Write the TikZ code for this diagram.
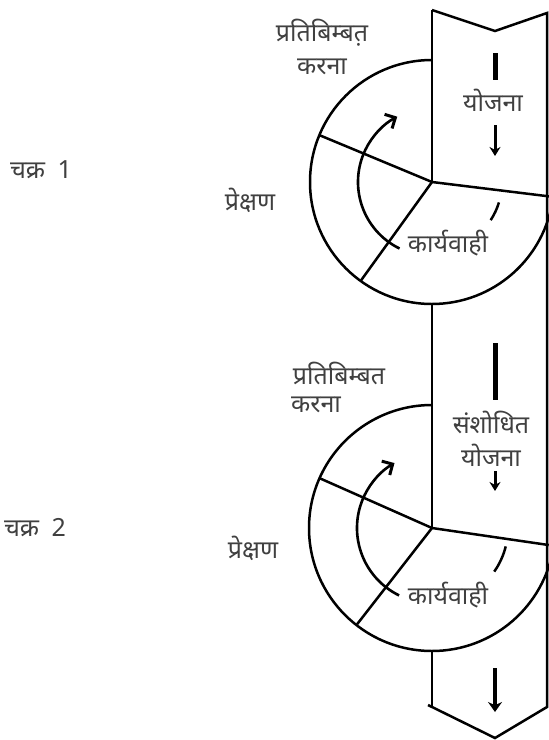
\documentclass[tikz,border=0pt]{standalone}
\usepackage{fontspec}
\newfontfamily\deva[Script=Devanagari]{Noto Sans}
\usetikzlibrary{arrows.meta}
\begin{document}
\begin{tikzpicture}[x=1pt,y=-1pt,
  lbl/.style={font=\deva\fontsize{25}{28}\selectfont, text=black!75, inner sep=0pt},
  edge/.style={line width=2.5pt, black, line join=miter},
  bar/.style={line width=5pt, black},
  flow/.style={line width=3pt, black, -{Stealth[length=9pt,width=11pt]}},
  turn/.style={line width=2.6pt, black, -{Straight Barb[length=8pt,width=16pt,line width=3pt]}},
]
\useasboundingbox (0,0) rectangle (549,740);

% band (arrow)
\coordinate (tl) at (432,10);
\coordinate (tn) at (495,31);
\coordinate (tr) at (547,13);
\coordinate (bl) at (428,705);
\coordinate (bn) at (495,738);
\coordinate (br) at (547,707);
\coordinate (c1) at (432,182);
\coordinate (c2) at (432,528);
\draw[edge] (tl) -- (tn) -- (tr) -- (br) -- (bn) -- (bl);
\draw[edge] (tl) -- (c1);
\draw[edge] (432,304) -- (c2);
\draw[edge] (432,651) -- (432,707);

% cycle 1
\draw[edge] (432,60) arc[start angle=270, end angle=7, radius=122];
\draw[edge] (c1) -- ++(7:121);
\draw[edge] (c1) -- ++(202.6:122);
\draw[edge] (c1) -- ++(125.8:121);
\draw[turn] ([shift={(116:74)}]c1) arc[start angle=116, end angle=242, radius=74];
\draw[edge] ([shift={(17:70)}]c1) arc[start angle=17, end angle=33, radius=70];

% cycle 2
\draw[edge] (432,405) arc[start angle=270, end angle=8.3, radius=123];
\draw[edge] (c2) -- ++(8.3:118);
\draw[edge] (c2) -- ++(203.9:123);
\draw[edge] (c2) -- ++(127.9:122);
\draw[turn] ([shift={(116:75)}]c2) arc[start angle=116, end angle=240, radius=75];
\draw[edge] ([shift={(14:76)}]c2) arc[start angle=14, end angle=35, radius=76];

% flow marks in band
\coordinate (b1a) at (495,53); \coordinate (b1b) at (495,80);
\draw[bar] (b1a) -- (b1b);
\coordinate (a1a) at (495,125); \coordinate (a1b) at (495,156);
\draw[flow] (a1a) -- (a1b);
\coordinate (b2a) at (495,343); \coordinate (b2b) at (495,400);
\draw[bar] (b2a) -- (b2b);
\coordinate (a2a) at (495,471); \coordinate (a2b) at (495,491);
\draw[flow] (a2a) -- (a2b);
\coordinate (a3a) at (495,668); \coordinate (a3b) at (495,712);
\draw[flow, line width=4.5pt, -{Stealth[length=10pt,width=14pt]}] (a3a) -- (a3b);

% labels
\node[lbl] (ch1) at (41,170) {चक्र\hspace{0.5em}1};
\node[lbl] (ch2) at (35,528) {चक्र\hspace{0.5em}2};

\node[lbl] (pr1) at (322,33) {प्रतिबिम्बत़};
\node[lbl] (kr1) at (322,67) {करना};
\node[lbl] (yo1) at (493,100) {योजना};
\node[lbl] (ka1) at (448,243) {कार्यवाही};
\node[lbl] (pe1) at (250,200) {प्रेक्षण};

\node[lbl] (pr2) at (339,373) {प्रतिबिम्बत};
\node[lbl] (kr2) at (316,405) {करना};
\node[lbl] (sa2) at (491,422) {संशोधित};
\node[lbl] (yo2) at (491,455) {योजना};
\node[lbl] (ka2) at (448,595) {कार्यवाही};
\node[lbl] (pe2) at (253,548) {प्रेक्षण};
\end{tikzpicture}
\end{document}
